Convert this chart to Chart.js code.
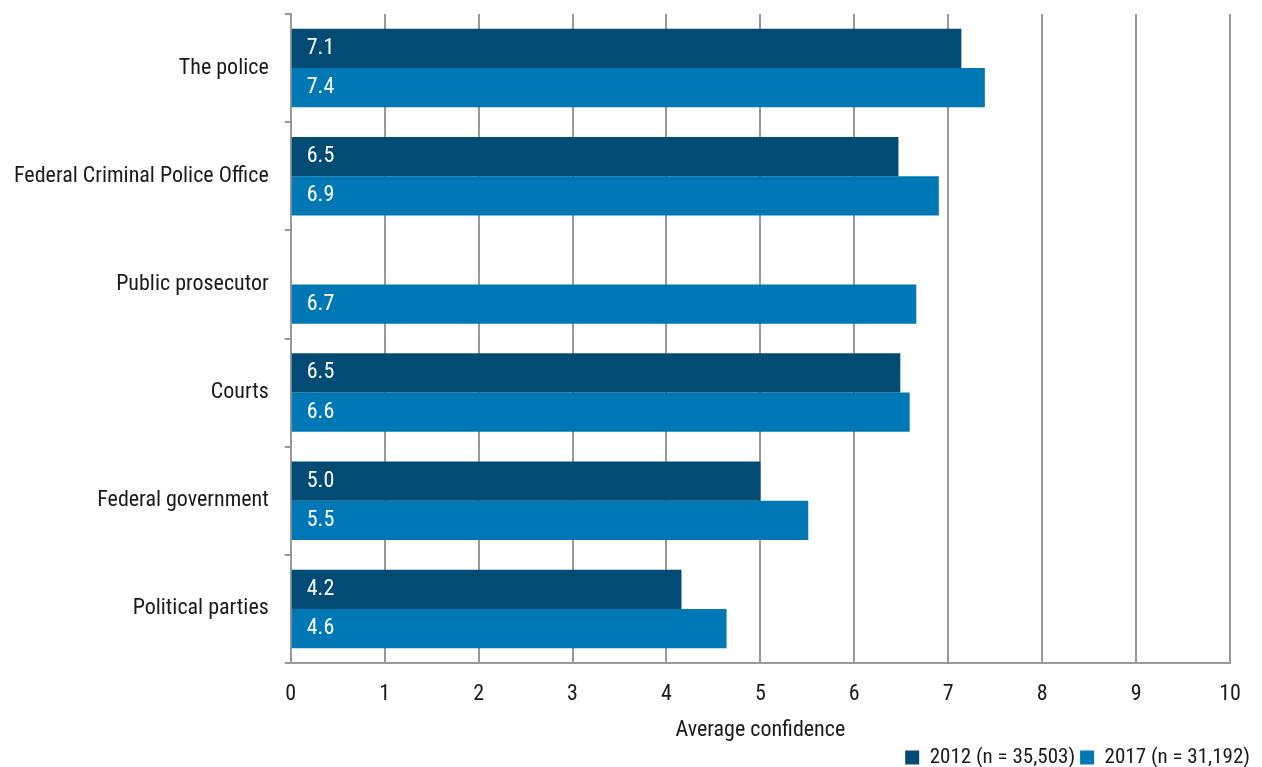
<!DOCTYPE html>
<html>
<head>
<meta charset="utf-8">
<script src="https://cdn.jsdelivr.net/npm/chart.js@4/dist/chart.umd.min.js"></script>
<style>
  html, body { margin: 0; padding: 0; background: #ffffff; }
  #wrap { width: 1262px; height: 767px; position: relative; }
</style>
</head>
<body>
<div id="wrap"><canvas id="c"></canvas></div>
<script>
// Institutions rated, average confidence on a 0–10 scale
const categories = ['The police', 'Federal Criminal Police Office', 'Public prosecutor', 'Courts', 'Federal government', 'Political parties'];
const values2012 = [7.14, 6.47, null, 6.49, 5.0, 4.16];
const values2017 = [7.39, 6.9, 6.66, 6.59, 5.51, 4.64];
const seriesNames = ['2012 (n = 35,503)', '2017 (n = 31,192)'];
const xTicks = [0, 1, 2, 3, 4, 5, 6, 7, 8, 9, 10];
const axisTitle = 'Average confidence';

const FONT = "'Roboto Condensed', 'Open Sans', sans-serif";
const TEXT = '#1a1a1a';

// Writes each bar's value in white near the bar's base
const valueLabels = {
  id: 'valueLabels',
  afterDatasetsDraw(chart) {
    const ctx = chart.ctx;
    ctx.save();
    ctx.font = '22px ' + FONT;
    ctx.fillStyle = '#ffffff';
    ctx.textAlign = 'left';
    ctx.textBaseline = 'middle';
    chart.data.datasets.forEach((ds, i) => {
      const meta = chart.getDatasetMeta(i);
      meta.data.forEach((bar, j) => {
        const v = ds.data[j];
        if (v === null || v === undefined) return;
        ctx.fillText(v.toFixed(1), bar.base + 15, bar.y);
      });
    });
    ctx.restore();
  }
};

new Chart(document.getElementById('c'), {
  type: 'bar',
  data: {
    labels: categories,
    datasets: [
      { label: seriesNames[0], data: values2012, backgroundColor: '#024b75', borderWidth: 0 },
      { label: seriesNames[1], data: values2017, backgroundColor: '#0178b6', borderWidth: 0 }
    ]
  },
  options: {
    indexAxis: 'y',
    responsive: true,
    maintainAspectRatio: false,
    animation: false,
    layout: { padding: { top: 14, right: 7, left: 14, bottom: -11 } },
    datasets: { bar: { categoryPercentage: 0.725, barPercentage: 1.0 } },
    scales: {
      x: {
        min: 0, max: 10,
        afterBuildTicks(scale) { scale.ticks = xTicks.map(v => ({ value: v })); },
        afterFit(scale) { scale.paddingRight = 32; scale.height -= 20; },
        grid: { color: '#999999', lineWidth: 2, drawTicks: false },
        border: { color: '#999999', width: 2 },
        ticks: { color: TEXT, font: { family: FONT, size: 22, lineHeight: 1.0 }, padding: 20 },
        title: { display: true, text: axisTitle, color: TEXT, font: { family: FONT, size: 22, lineHeight: 1.0 }, padding: { top: 14, bottom: 1 } }
      },
      y: {
        afterFit(scale) { scale.paddingTop = 0; scale.paddingBottom = 0; scale.width -= 16; },
        grid: { display: true, offset: true, drawOnChartArea: false, color: '#999999', lineWidth: 2, tickLength: 6 },
        border: { color: '#999999', width: 2 },
        ticks: { color: TEXT, font: { family: FONT, size: 22, lineHeight: 1.0 }, padding: 16 }
      }
    },
    plugins: {
      legend: {
        position: 'bottom',
        align: 'end',
        labels: { boxWidth: 14, boxHeight: 14, padding: 5, color: TEXT, font: { family: FONT, size: 21, lineHeight: 1.0 } }
      },
      tooltip: { enabled: false }
    }
  },
  plugins: [valueLabels]
});
</script>
</body>
</html>
